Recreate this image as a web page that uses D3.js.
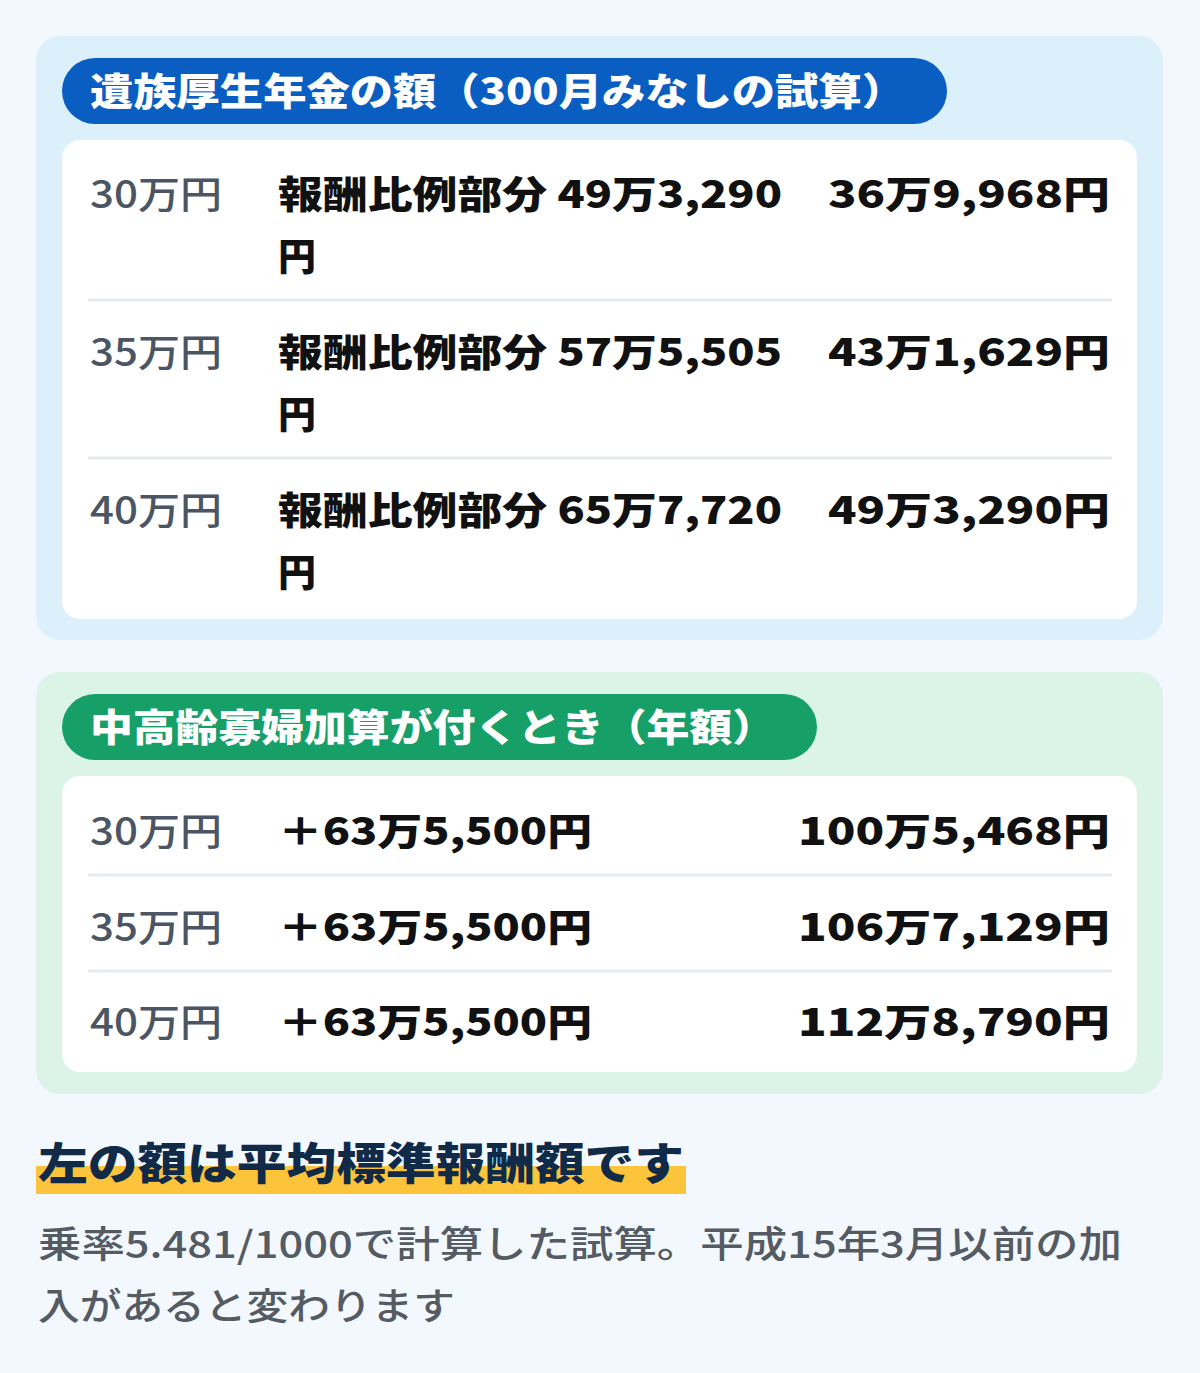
<!DOCTYPE html>
<html><head><meta charset="utf-8">
<script src="https://cdn.jsdelivr.net/npm/d3@7"></script>
<style>body{margin:0;background:#f3f8fe}svg{display:block}text{font-family:"Noto Sans CJK JP","Noto Sans",sans-serif}</style>
</head><body><svg id="c" width="1200" height="1373"></svg>
<script>
const salaries = ["30万円","35万円","40万円"];
const proportional = ["49万3,290","57万5,505","65万7,720"];
const survivorAmount = ["36万9,968円","43万1,629円","49万3,290円"];
const addition = ["＋63万5,500円","＋63万5,500円","＋63万5,500円"];
const totals = ["100万5,468円","106万7,129円","112万8,790円"];
const title1 = "遺族厚生年金の額（300月みなしの試算）";
const title2 = "中高齢寡婦加算が付くとき（年額）";
const noteHead = "左の額は平均標準報酬額です";
const noteLines = ["乗率5.481/1000で計算した試算。平成15年3月以前の加","入があると変わります"];

const svg = d3.select("#c");
svg.append("rect").attr("width",1200).attr("height",1373).attr("fill","#f3f8fe");
function txt(x,y,s,size,w,fill,len,anchor){
  const t=svg.append("text").attr("x",x).attr("y",y).attr("fill",fill).attr("font-size",size).attr("font-weight",w).text(s);
  if(len) t.attr("textLength",len).attr("lengthAdjust","spacingAndGlyphs");
  if(anchor) t.attr("text-anchor",anchor);
  return t;
}
function panel(y0,h,bg,pillW,pillColor,title,tlen,cardY,cardH){
  svg.append("rect").attr("x",36).attr("y",y0).attr("width",1127).attr("height",h).attr("rx",24).attr("fill",bg);
  svg.append("rect").attr("x",62).attr("y",y0+22).attr("width",pillW).attr("height",66).attr("rx",33).attr("fill",pillColor);
  txt(90,y0+69,title,38,900,"#fff",tlen);
  svg.append("rect").attr("x",62).attr("y",cardY).attr("width",1075).attr("height",cardH).attr("rx",18).attr("fill","#fff");
}
panel(36,604,"#dcf0fc",885,"#0a5ec2",title1,815,140,479);
panel(672,422,"#dcf3e8",755,"#16a067",title2,685,776,296);

const y1 = d3.scalePoint().domain(salaries).range([208,524]);
[300,458].forEach(y=>svg.append("line").attr("x1",88).attr("x2",1112).attr("y1",y).attr("y2",y).attr("stroke","#e6ebf0").attr("stroke-width",3));
salaries.forEach((s,i)=>{
  const y=y1(s);
  txt(90,y,s,38,500,"#4b5563",132);
  txt(278,y,"報酬比例部分 "+proportional[i],38,900,"#111",504);
  txt(278,y+62,"円",38,900,"#111");
  txt(1110,y,survivorAmount[i],38,900,"#111",282,"end");
});

const y2 = d3.scalePoint().domain(salaries).range([845,1036]);
[875,971].forEach(y=>svg.append("line").attr("x1",88).attr("x2",1112).attr("y1",y).attr("y2",y).attr("stroke","#e6ebf0").attr("stroke-width",3));
salaries.forEach((s,i)=>{
  const y=y2(s);
  txt(90,y,s,38,500,"#4b5563",132);
  txt(278,y,addition[i],38,900,"#111",314);
  txt(1110,y,totals[i],38,900,"#111",312,"end");
});

svg.append("rect").attr("x",36).attr("y",1166).attr("width",650).attr("height",28).attr("fill","#fbc43a");
txt(38,1180,noteHead,44,900,"#102a48",646);
txt(38,1258,noteLines[0],37,500,"#555b63",1084);
txt(38,1320,noteLines[1],37,500,"#555b63",417);
</script></body></html>
